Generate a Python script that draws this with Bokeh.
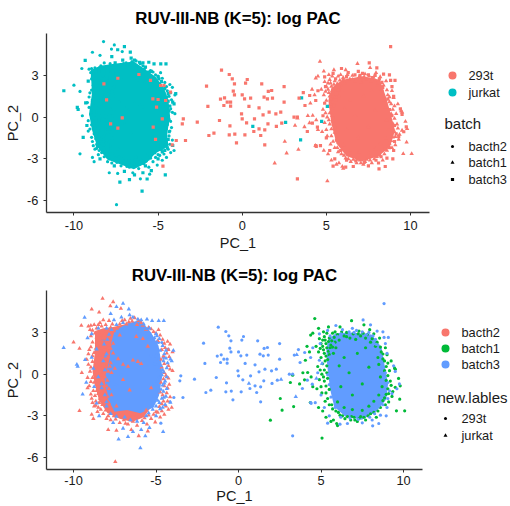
from bokeh.plotting import figure
from bokeh.layouts import column, row
from bokeh.embed import file_html
from bokeh.resources import INLINE
from bokeh.models import FixedTicker, Title, Range1d
from bokeh.core.properties import value

TITLE = "RUV-III-NB (K=5): log PAC"
x_ticks = [-10, -5, 0, 5, 10]
x_tick_labels = ["-10", "-5", "0", "5", "10"]
y_ticks = [-6, -3, 0, 3]
y_tick_labels = ["-6", "-3", "0", "3"]
cells = ["293t", "jurkat"]
batches = ["bacth2", "batch1", "batch3"]

# dense masses (x, y outlines)
jurkat_mass = [(-9.0,3.4),(-8.42,3.7),(-7.62,3.85),(-6.44,4.0),(-5.84,3.5),(-5.15,2.9),(-4.65,2.1),(-4.38,1.2),(-4.28,0),(-4.48,-1.2),(-4.38,-2.1),(-5.15,-2.6),(-5.7,-3.3),(-6.44,-3.75),(-7.23,-3.4),(-8.02,-3.05),(-8.63,-2.1),(-8.93,-.9),(-9.1,.24),(-8.93,1.68)]
t293_mass = [(5.3,2.1),(5.95,2.7),(7.14,2.95),(8.18,2.7),(8.56,1.4),(8.88,0),(9.08,-.96),(8.78,-2.15),(8.1,-2.82),(7.14,-3.18),(6.2,-2.82),(5.6,-1.9),(5.3,-.48),(5.12,1.2)]
jurkat_bacth2_mass = [(-8.7,3.1),(-8.2,3.3),(-7.6,3.4),(-6.5,3.7),(-5.9,3.2),(-5.4,2.5),(-5.1,1.5),(-5.0,.3),(-5.05,-1.0),(-5.2,-2.2),(-5.75,-3.1),(-6.45,-3.45),(-7.2,-3.2),(-7.95,-2.8),(-8.45,-1.9),(-8.7,-.8),(-8.85,.2),(-8.7,1.6)]
jurkat_batch3_mass = [(-7.52,3.08),(-6.76,3.65),(-5.95,3.9),(-5.3,3.0),(-4.85,2.05),(-4.68,.84),(-4.62,-.12),(-4.82,-1.53),(-5.15,-2.4),(-5.95,-2.82),(-6.76,-2.58),(-7.52,-2.7),(-7.92,-1.78),(-8.12,-.36),(-7.82,1.08),(-7.72,2.24)]
t293_batch3_mass = [(5.45,2.55),(5.9,2.95),(6.88,3.0),(8.05,2.85),(8.66,1.95),(8.86,.6),(9.06,-.72),(8.96,-1.8),(8.35,-2.68),(7.48,-3.28),(6.47,-3.04),(5.8,-2.35),(5.55,-1.08),(5.4,.36),(5.32,1.75)]

jurkat_bacth2 = [(-7.47,-6.3),(-9.64,-2.64),(-8.9,-2.9),(-8.8,-3.2),(-10,2.3),(-9.64,1.85),(-9.53,3.5),(-8.9,4.67),(-8.24,5.44),(-7.6,5.2),(-7.13,4.72),(-7.77,4.9),(-8.45,4.45),(-9.5,.1),(-6.05,-4.44),(-6.5,-4.0),(-7.4,-4.05),(-7.9,-4.0),(-5.5,-4.1),
(-9.1,3.45),(-8.95,3.5),(-8.75,3.55),(-8.6,3.3),(-8.4,3.7),(-8.2,3.9),(-8.05,3.55),(-7.85,3.85),(-7.65,3.6),(-8.7,2.95),(-8.35,2.8),(-8.1,2.95),(-7.9,2.65),(-8.85,2.3),(-8.55,2.1),(-8.25,2.35),(-8.05,1.95),(-9.05,1.75),(-8.75,1.55),(-8.4,1.35),(-8.15,1.6),(-7.9,1.25),(-9.2,1.05),(-8.85,.9),(-8.6,.65),(-8.3,.85),(-8.05,.55),(-7.75,.8),(-7.6,1.5),(-7.5,.4),(-9.0,.2),(-8.7,-.05),(-8.4,.1),(-8.1,-.2),(-8.95,-.55),(-8.6,-.7),(-8.25,-.45),(-8.0,-.85),(-9.15,-1.0),(-8.8,-1.2),(-8.5,-1.4),(-8.15,-1.15),(-8.9,-1.75),(-8.65,-1.95),(-8.4,-1.75),(-8.1,-1.85),(-8.75,-2.3),(-8.5,-2.4),(-8.25,-2.2),(-7.95,-2.45),(-8.55,-2.7),(-8.2,-2.85),(-7.9,-3.0),(-7.6,-2.75),(-7.75,-3.3),(-7.45,-3.25),(-7.2,-3.5),(-6.95,-3.3),(-6.7,-3.6),(-6.4,-3.4),(-6.15,-3.7),(-5.85,-3.35),(-5.55,-3.6),(-5.3,-3.2),(-5.05,-3.45),(-4.75,-3.1),(-4.5,-2.9),(-4.25,-2.55),
(-7.35,3.3),(-7.05,3.85),(-6.8,3.6),(-6.55,4.0),(-6.3,4.05),(-6.05,3.85),(-5.8,3.5),(-5.45,3.35),(-5.15,3.05),(-4.85,3.2),(-4.6,2.5),(-4.3,2.35),(-4.15,2.15),(-4.45,1.9),(-4.0,1.6),(-4.35,1.5),(-4.7,1.05),(-4.15,.35),(-4.0,.25),(-4.4,-.1),(-4.7,-.6),(-4.3,-1.0),(-4.6,-1.5),(-4.3,-1.95),(-4.05,-2.4),(-4.8,-2.35),(-5.0,-2.7),
(-7.6,2.2),(-7.3,1.1),(-7.0,.7),(-6.7,.55),(-6.4,1.0),(-6.1,.9),(-5.9,.75),(-7.0,-.4),(-6.6,-1.15),(-5.8,2.55),(-5.5,2.0),(-6.2,2.7),(-7.2,2.8),(-7.7,-1.5),(-7.4,-2.3),(-5.3,-1.0),(-5.6,-2.6),(-6.3,-2.9),
(-9.0,3.2),(-8.85,3.15),(-8.5,3.55),(-8.3,3.45),(-8.0,3.2),(-7.75,3.35),(-7.55,3.1),(-8.95,2.75),(-8.6,2.65),(-8.45,2.45),(-8.2,2.6),(-8.0,2.35),(-7.8,2.1),(-8.95,1.95),(-8.65,1.85),(-8.35,1.85),(-7.95,1.7),(-7.75,1.85),(-9.1,1.45),(-8.85,1.3),(-8.55,1.15),(-8.2,1.15),(-8.05,1.05),(-7.8,.55),(-9.1,.7),(-8.95,.5),(-8.7,.35),(-8.45,.5),(-8.2,.3),(-7.9,.2),(-7.7,.1),(-9.15,-.25),(-8.85,-.25),(-8.55,-.3),(-8.3,-.1),(-7.95,-.45),(-9.05,-.85),(-8.75,-.6),(-8.4,-.95),(-8.05,-1.3),(-7.85,-1.05),(-8.95,-1.45),(-8.6,-1.2),(-8.3,-1.45),(-7.95,-1.6),(-8.7,-1.55),(-8.85,-2.05),(-8.45,-2.05),(-8.2,-1.6),(-7.85,-2.1),(-8.65,-2.25),(-8.35,-2.55),(-8.05,-2.6),(-7.75,-2.45),(-8.0,-3.2),(-7.55,-3.0),(-7.3,-2.85),(-7.05,-2.95),(-6.85,-3.55),(-6.55,-3.1),(-6.25,-3.2),(-6.0,-3.05),(-5.7,-3.15),(-5.45,-2.95),(-5.15,-2.9),(-4.9,-2.75),(-4.65,-2.65),(-4.4,-2.3),
(-7.2,3.6),(-6.9,3.9),(-6.65,3.75),(-6.45,3.8),(-6.15,3.55),(-5.9,3.7),(-5.6,3.2),(-5.3,3.25),(-5.0,2.95),(-4.75,2.8),(-4.9,2.4),(-4.5,2.2),(-4.65,1.75),(-4.25,1.75),(-4.55,1.3),(-4.2,1.25),(-4.5,.75),(-4.65,.5),(-4.25,.6),(-4.5,.1),(-4.25,-.3),(-4.55,-.35),(-4.2,-.75),(-4.5,-.85),(-4.35,-1.35),(-4.75,-1.3),(-4.15,-1.65),(-4.55,-1.95),(-4.65,-2.15)]

jurkat_batch3 = [(-10.6,1.9),(-9.8,.7),(-9.3,1.03),(-9.23,-.6),(-9.33,4.08),(-9.15,2.6),(-9.45,-1.45),(-9.75,.55),(-7,5.08),(-6.65,4.68),(-7.4,4.85),(-7.27,-4.68),(-6.7,-4.5),(-5.65,-4.45),(-5.95,-5.32),(-4.57,-4.15),(-5.24,3.84),(-4.84,3.84),(-5.55,3.95),(-4.53,3.84),
(-4.13,1.08),(-4.05,.95),(-3.95,1.7),(-4.13,-2.04),(-4.53,-1.68),(-4.3,.8),(-4.6,.3),(-4.45,-.5),(-4.7,-1.1),(-4.9,-1.9),(-4.45,-2.2),(-4.8,-.2),(-4.9,.7),(-4.75,1.7),(-4.95,2.3),(-5.0,2.9),(-5.4,3.3),(-5.9,3.9),(-6.6,4.25),(-7.1,4.1),(-7.55,3.9),(-8.0,3.3),(-8.5,3.3),(-8.9,2.9),(-8.6,1.8),(-8.9,1.2),(-8.8,.4),(-8.5,-.2),(-8.75,-.9),(-8.3,-1.0),(-8.6,-2.1),(-8.0,-2.0),(-8.45,-3.0),(-7.6,-3.5),(-7.0,-3.9),(-6.4,-4.15),(-5.9,-4.0),(-5.4,-3.85),(-5.0,-3.0),(-7.75,4.35),(-5.6,-3.0),
(3.53,1.39),(5.06,.77),(4.72,-.31),(2.58,-.38),(3.47,-1.63),(.63,-.67),
(-4.95,1.4),(-4.85,1.05),(-4.7,.6),(-4.85,.25),(-4.65,-.05),(-4.9,-.5),(-4.6,-.8),(-4.85,-1.25),(-4.65,-1.75),(-4.8,-2.05),(-5.0,-2.3),(-5.2,-2.55),(-5.45,-2.8),(-5.1,2.6),(-5.35,2.85),(-5.55,3.25),(-5.75,3.6),(-6.1,3.95),(-6.4,4.1),(-7.0,3.7),(-7.4,3.55),(-7.7,3.2),(-7.85,2.85),(-7.95,2.5),(-8.15,2.15),(-8.0,1.45),(-8.2,.95),(-8.1,.3),(-8.3,-.7),(-8.1,-1.5),(-8.0,-2.3),(-7.75,-2.85),(-7.4,-3.05),(-6.9,-3.1),(-6.55,-3.3),(-6.15,-3.4),(-5.75,-3.5),
(-4.5,1.45),(-4.4,1.15),(-4.55,.95),(-4.35,.45),(-4.55,.15),(-4.35,-.2),(-4.5,-.65),(-4.35,-1.05),(-4.55,-1.25),(-4.4,-1.6),(-4.6,-2.4),(-4.75,-2.5),(-4.4,1.7),(-4.6,2.05),(-4.8,2.55),(-4.95,2.75)]

t293_batch1 = [(4.62,4.0),(5.06,-4.6),(1.93,-3.31),(2.64,-2.59),(2.53,-1.75),(3.34,-2.33),(3.14,-.6),(3.28,-.07),(4.19,.12),(4.0,-.41),(4.35,-2.04),(10.07,-2.64),(9.77,-1.8),(9.57,-2.64),(9.8,-.84),(9.5,.36),(9.7,-.31),(3.7,-.7),(3.9,.1),(4.4,-.2),(4.5,-.9),(4.05,1.0),(4.3,1.6),(4.15,2.0),(4.37,2.81),(4.5,2.95),(4.85,3.3),(5.15,3.05),(5.45,3.4),(5.85,3.05),(6.15,3.4),(6.55,3.0),(6.85,3.85),(7.3,3.1),(7.6,3.55),(7.95,3.2),(8.2,2.9),(8.55,2.6),(8.9,1.9),(8.65,1.6),(9.0,1.4),(8.75,1.1),(9.25,.95),(8.95,.55),(9.45,.45),(9.05,-.1),(9.2,-.5),(9.5,-.95),(9.05,-1.05),(9.35,-1.25),(8.95,-1.45),(9.3,-1.6),(8.75,-1.9),(9.1,-2.0),(8.6,-2.4),(8.2,-2.75),(8.35,-3.1),(7.85,-3.0),(7.7,-3.3),(7.4,-3.05),(7.2,-3.4),(7.0,-3.1),(6.8,-3.3),(6.6,-3.05),(6.3,-3.0),(6.05,-2.75),(5.75,-3.3),(5.3,-3.1),(5.1,-2.65),(4.85,-2.4),(5.7,-2.5),(5.5,-2.2),(5.25,-1.95),(5.95,-3.55),(6.0,-3.7),(5.6,-3.4),
(4.75,-1.05),(5.0,-.9),(5.3,-.85),(5.5,-1.1),(5.2,-.5),(4.9,-.4),(5.4,-.3),(5.05,.0),(5.35,.1),(4.8,.55),(5.1,.75),(5.35,.6),(5.0,1.2),(5.3,1.3),(4.85,1.6),(5.15,1.75),(5.45,1.65),(5.75,1.5),(4.7,2.0),(5.0,2.2),(5.3,2.2),(5.6,2.1),(5.9,1.9),(4.9,2.55),(5.2,2.7),(5.5,2.6),(5.8,2.65),(6.1,2.45),(6.4,2.75),(6.75,2.6),(7.1,2.5),(7.4,2.75),(7.7,2.6),(8.0,2.3),(8.3,2.0),(8.45,1.2),(8.5,.7),(8.6,-.2),(8.7,-.9),(8.5,-1.5),(8.2,-1.95),(7.9,-2.3),(7.5,-2.6),(6.9,-2.55),(6.4,-2.4),(6.0,-2.0),
(6.4,1.2),(6.7,.1),(7.2,1.5),(7.5,-.7),(6.2,-.9),(7.9,.5),(6.9,-1.5),(7.7,1.9),(6.1,.6),
(5.25,2.45),(5.45,2.35),(5.65,2.4),(5.55,1.9),(5.35,1.9),(5.1,2.0),(5.1,2.45),(4.95,1.85),(5.2,1.5),(5.5,1.4),(5.7,1.95),(5.85,2.3),(5.35,2.95),(5.7,2.95),(6.0,2.85),(6.25,3.05),(6.55,2.7),(6.95,2.9),(7.25,2.9),(7.55,2.95),(7.8,2.85),(8.1,2.55),(8.4,2.3),(8.6,1.95),(8.75,1.45),(8.85,.95),(9.05,.8),(9.15,.25),(8.85,.25),(8.95,-.45),(9.25,-.8),(9.1,-1.4),(8.85,-1.7),(8.9,-2.2),(8.45,-2.65),(8.0,-2.85),(7.6,-3.1),(7.3,-3.2),(7.05,-3.3),(6.85,-3.05),(6.45,-3.2),(6.15,-2.95),(5.9,-2.65),(5.65,-2.2),(5.4,-1.75),(5.3,-1.35),(5.05,-1.35),(5.15,-.2),(5.2,.3),(4.95,.3),(5.25,.95),(5.4,1.05)]

t293_batch3 = [(-3.5,-.12),(-3.56,-.48),(-2.67,-.36),(-2.12,2.23),(-2.04,.77),(-1.98,-1.32),(-1.68,-1.15),(-1.35,-.24),(-1.23,3.38),(-.77,3.07),(-.59,2.76),(-.46,2.4),(-1.29,1.3),(-1.05,1.39),(-.53,1.87),(-.46,1.6),(-1.09,.84),(-.89,1.08),(-.69,1.08),(-.69,.79),(0,1.6),(.14,1.32),(.5,1.37),(.4,.77),(-.04,.24),(0,-.12),(.26,-.41),(-.73,-.62),(-.77,-1.27),(-.44,-1.22),(.16,-1.27),(-.34,-1.85),(.3,2.71),(.2,2.45),(.73,-.12),(.69,-1.03),(-3.37,-1.68),(-3.92,-1.68),(-4.16,-1.99),
(1.16,2.4),(1.75,1.92),(1.55,1.85),(1.3,1.44),(1.8,1.37),(1.5,1.32),(2.49,2.2),(2.49,1.08),(1.0,.67),(1.6,.36),(1.24,.17),(2.0,.24),(2.29,.36),(2.35,-.43),(2.03,-.67),(1,-.84),(1.34,-.91),(1.53,-.48),(1.1,-1.32),(1.34,-1.99),(3.38,1.37),(3.63,1.77),(3.73,.84),(4.01,1.56),(4.37,1.2),(3.08,0),(3.28,0),(3.87,-1.03),(4.17,-.43),(4.47,-.72),(4.37,-2.04),(3.28,-4.44),(8.82,5.08),(8.13,-3.72),(5.4,-3.53),
(-8.22,2.4),(-8.06,1.25),(-7.39,2.8),(-7.13,-.05),(-7.39,-.79),(-7.82,-.48),(-5.29,-.72),(-5.31,1.32),(-5.0,1.27),(-4.85,2.28),(-4.65,2.28),(-5.45,2.64),(-4.26,1.8),(-4.55,1.2),(-5.15,-1.6),(-4.71,-3.53),(-4.75,-.12),(-6.14,3.07),(-5.09,.72),
(4.9,2.9),(5.4,3.15),(5.9,3.5),(6.3,3.2),(6.9,3.3),(7.55,3.9),(8.0,3.55),(8.4,3.1),(8.75,3.05),(8.82,2.64),(9.08,2.64),(8.9,2.2),(9.0,1.5),(9.4,.6),(9.5,.2),(9.75,-.7),(9.3,-1.4),(9.6,-1.05),(9.0,-2.4),(8.6,-2.95),(8.95,-3.0),(8.1,-3.3),(8.5,-3.55),(7.5,-3.5),(6.6,-3.55),(6.15,-3.6),(5.5,-3.0),(5.0,-1.5),(4.65,-2.05),(4.4,-2.1),(4.9,1.0),(4.5,1.9),(4.8,.1),(4.95,2.2),(5.2,-2.4),(7.0,3.0),(7.9,3.0),(8.3,2.5),
(5.55,2.75),(5.75,2.2),(6.0,2.7),(6.2,2.9),(6.7,3.05),(7.15,3.15),(7.5,3.05),(7.75,2.85),(8.15,2.75),(8.35,2.15),(8.65,1.3),(8.75,.55),(8.9,.1),(9.05,-.6),(9.15,-1.2),(9.05,-1.75),(8.75,-2.2),(8.5,-2.3),(8.25,-2.85),(7.95,-3.1),(7.25,-3.25),(6.75,-3.15),(6.2,-3.1),(5.85,-2.4),(5.6,-1.65),(5.5,-.75),(5.4,-.05),(5.45,.8),(5.55,1.25),(5.6,1.7)]

RED, TEAL, GREEN, BLUE = "#F8766D", "#00BFC4", "#00BA38", "#619CFF"
FONT = "Liberation Sans"
INK = "#1a1a1a"

def xs(pts): return [a for a, _ in pts]
def ys(pts): return [b for _, b in pts]

def panel(width, height, top, bottom, xr, yr, tick_gap, label_gap, title_offset):
    p = figure(width=width, height=height, output_backend="svg", toolbar_location=None,
               x_range=Range1d(*xr), y_range=Range1d(*yr), frame_align=False,
               min_border_left=46, min_border_right=6, min_border_top=top, min_border_bottom=bottom,
               x_axis_label="PC_1", y_axis_label="PC_2")
    p.title = Title(text=TITLE, align="center", text_font=FONT, text_font_size="16.8px",
                    text_font_style="bold", text_color="#000000", standoff=12, offset=title_offset)
    p.outline_line_color = None
    p.grid.visible = False
    p.xaxis.ticker = FixedTicker(ticks=x_ticks)
    p.yaxis.ticker = FixedTicker(ticks=y_ticks)
    p.xaxis.major_label_overrides = dict(zip(x_ticks, x_tick_labels))
    p.yaxis.major_label_overrides = dict(zip(y_ticks, y_tick_labels))
    for ax in (p.xaxis[0], p.yaxis[0]):
        ax.axis_line_color = "#333333"
        ax.axis_line_width = 1.3
        ax.major_tick_line_color = "#333333"
        ax.major_tick_line_width = 1
        ax.major_tick_in = 0
        ax.major_tick_out = 3
        ax.minor_tick_line_color = None
        ax.major_label_text_font = FONT
        ax.major_label_text_font_size = "12.8px"
        ax.major_label_text_color = INK
        ax.major_label_standoff = 5
        ax.axis_label_text_font = FONT
        ax.axis_label_text_font_size = "14.5px"
        ax.axis_label_text_font_style = "normal"
        ax.axis_label_text_color = INK
        ax.axis_label_standoff = 3
    p.xaxis[0].major_label_standoff = tick_gap
    p.xaxis[0].axis_label_standoff = label_gap
    return p

def legend_fig(width, height):
    f = figure(width=width, height=height, output_backend="svg", toolbar_location=None,
               x_range=Range1d(0, width), y_range=Range1d(height, 0), frame_align=False,
               x_axis_location=None, y_axis_location=None,
               min_border=0)
    f.outline_line_color = None
    f.grid.visible = False
    return f

def label(f, x, y, text, size):
    f.text([x], [y], text=[text], text_font=value(FONT), text_font_size=value(size),
           text_color=INK, text_baseline="middle", text_align="left")

def dots(p, pts, marker, color):
    sizes = {"circle": 3.2, "square": 3.2, "triangle": 4.4}
    p.scatter(xs(pts), ys(pts), marker=marker, size=sizes[marker], fill_color=color, line_color=None)

XR = (-11.63, 11.13)
YR = (-6.86, 6.02)

# top panel: colour = cell, shape = batch
p1 = panel(435, 253, 33, 41, XR, YR, 5, 2, -3)
p1.patch(xs(t293_mass), ys(t293_mass), fill_color=RED, line_color=None)
p1.patch(xs(jurkat_mass), ys(jurkat_mass), fill_color=TEAL, line_color=None)
dots(p1, t293_batch1, "triangle", RED)
dots(p1, jurkat_bacth2, "circle", TEAL)
dots(p1, jurkat_batch3, "square", TEAL)
dots(p1, t293_batch3, "square", RED)

l1 = legend_fig(75, 253)
for lx, ly, txt, col in [(17, 75, cells[0], RED), (17, 92, cells[1], TEAL)]:
    l1.scatter([lx], [ly], marker="circle", size=8, fill_color=col, line_color=None)
    label(l1, 33, ly, txt, "12.8px")
label(l1, 9, 123, "batch", "15px")
for lx, ly, txt, mk, sz in [(17, 146, batches[0], "circle", 3), (17, 162, batches[1], "triangle", 4), (17, 179, batches[2], "square", 3.2)]:
    l1.scatter([lx], [ly], marker=mk, size=sz, fill_color="#000000", line_color=None)
    label(l1, 33, ly, txt, "12.8px")

# bottom panel: colour = batch, shape = cell
p2 = panel(428, 253, 37, 37, (-11.64, 11.15), YR, 3, 0, 0)
p2.patch(xs(jurkat_bacth2_mass), ys(jurkat_bacth2_mass), fill_color=RED, line_color=None)
p2.patch(xs(jurkat_batch3_mass), ys(jurkat_batch3_mass), fill_color=BLUE, line_color=None)
p2.patch(xs(t293_batch3_mass), ys(t293_batch3_mass), fill_color=BLUE, line_color=None)
dots(p2, t293_batch1, "circle", GREEN)
dots(p2, t293_batch3, "circle", BLUE)
dots(p2, jurkat_bacth2, "triangle", RED)
dots(p2, jurkat_batch3, "triangle", BLUE)

l2 = legend_fig(82, 253)
for lx, ly, txt, col in [(17, 79, batches[0], RED), (17, 95, batches[1], GREEN), (17, 111, batches[2], BLUE)]:
    l2.scatter([lx], [ly], marker="circle", size=8, fill_color=col, line_color=None)
    label(l2, 33, ly, txt, "12.8px")
label(l2, 9, 144, "new.lables", "15px")
for lx, ly, txt, mk, sz in [(17, 165, cells[0], "circle", 3), (17, 182, cells[1], "triangle", 4)]:
    l2.scatter([lx], [ly], marker=mk, size=sz, fill_color="#000000", line_color=None)
    label(l2, 33, ly, txt, "12.8px")

layout = column(row(p1, l1), row(p2, l2))
open("out.html", "w").write(file_html(layout, INLINE))
